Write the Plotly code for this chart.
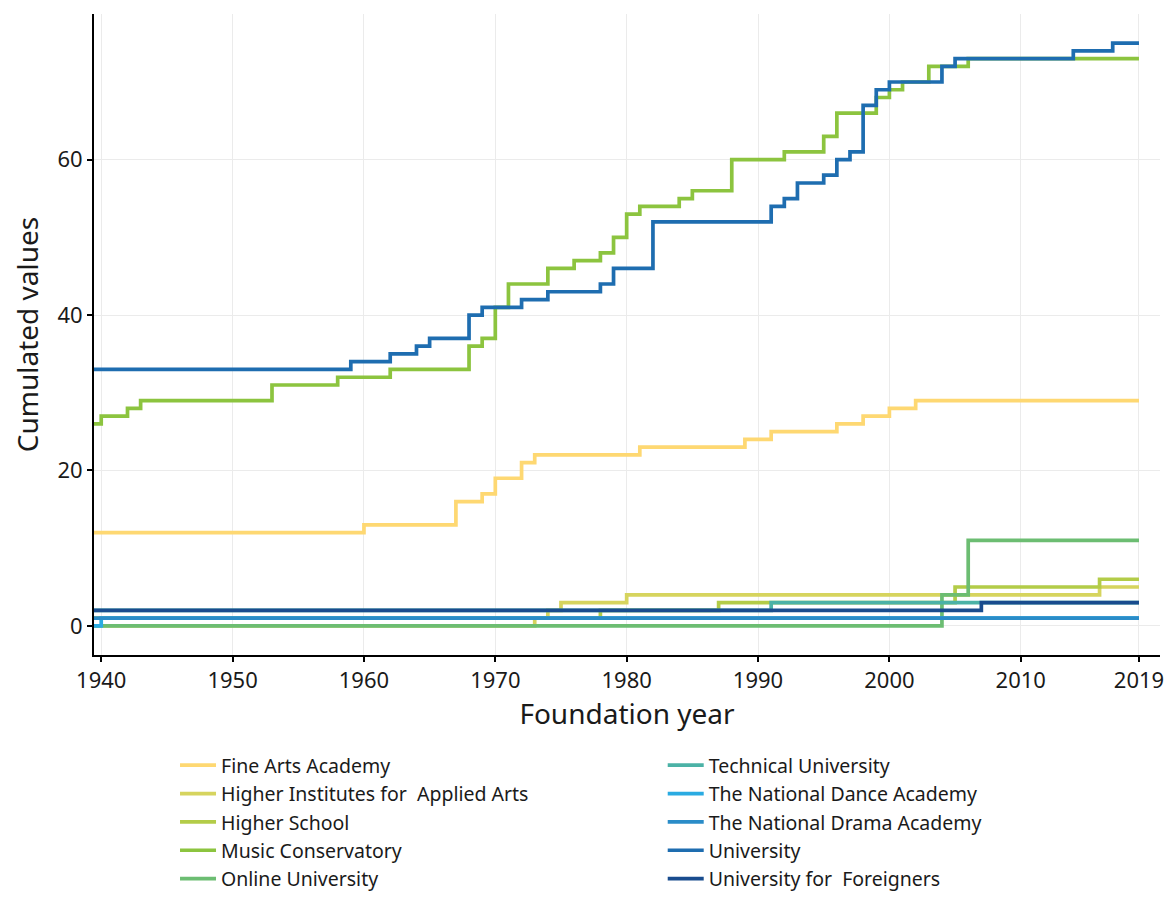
import plotly.graph_objects as go

# Cumulated number of institutions by foundation year (step points: year, cumulated value)
fine_arts_years = [1939, 1960, 1967, 1969, 1970, 1972, 1973, 1981, 1989, 1991, 1996, 1998, 2000, 2002, 2019]
fine_arts_values = [12, 13, 16, 17, 19, 21, 22, 23, 24, 25, 26, 27, 28, 29, 29]

applied_arts_years = [1939, 1973, 1974, 1975, 1980, 2016, 2019]
applied_arts_values = [0, 1, 2, 3, 4, 5, 5]

higher_school_years = [1939, 1978, 1987, 2005, 2016, 2019]
higher_school_values = [1, 2, 3, 5, 6, 6]

music_years = [1939, 1940, 1942, 1943, 1953, 1958, 1962, 1968, 1969, 1970, 1971, 1974, 1976, 1978,
               1979, 1980, 1981, 1984, 1985, 1988, 1992, 1995, 1996, 1999, 2000, 2001, 2003, 2006, 2019]
music_values = [26, 27, 28, 29, 31, 32, 33, 36, 37, 41, 44, 46, 47, 48,
                50, 53, 54, 55, 56, 60, 61, 63, 66, 68, 69, 70, 72, 73, 73]

online_years = [1939, 2004, 2006, 2019]
online_values = [0, 4, 11, 11]

technical_years = [1939, 1991, 2019]
technical_values = [2, 3, 3]

dance_years = [1939, 1940, 2019]
dance_values = [0, 1, 1]

drama_years = [1939, 2019]
drama_values = [1, 1]

university_years = [1939, 1959, 1962, 1964, 1965, 1968, 1969, 1972, 1974, 1978, 1979, 1982, 1991, 1992,
                    1993, 1995, 1996, 1997, 1998, 1999, 2000, 2004, 2005, 2014, 2017, 2019]
university_values = [33, 34, 35, 36, 37, 40, 41, 42, 43, 44, 46, 52, 54, 55,
                     57, 58, 60, 61, 67, 69, 70, 72, 73, 74, 75, 75]

foreigners_years = [1939, 2007, 2019]
foreigners_values = [2, 3, 3]

categories = ["Fine Arts Academy", "Higher Institutes for  Applied Arts", "Higher School",
              "Music Conservatory", "Online University", "Technical University",
              "The National Dance Academy", "The National Drama Academy", "University",
              "University for  Foreigners"]
series_years = [fine_arts_years, applied_arts_years, higher_school_years, music_years, online_years,
                technical_years, dance_years, drama_years, university_years, foreigners_years]
series_values = [fine_arts_values, applied_arts_values, higher_school_values, music_values, online_values,
                 technical_values, dance_values, drama_values, university_values, foreigners_values]
colors = ["#FED872", "#D6D45E", "#B3CC48", "#8CC43F", "#6CBD72",
          "#4BB2A6", "#2AABE2", "#2A8CC8", "#1E6DB0", "#194C8E"]

x_tick_vals = [1940, 1950, 1960, 1970, 1980, 1990, 2000, 2010, 2019]
y_tick_vals = [0, 20, 40, 60]

FONT = "'Noto Sans', 'Open Sans', sans-serif"
TXT = "#1a1a1a"

fig = go.Figure()
for i, (name, xs, ys, col) in enumerate(zip(categories, series_years, series_values, colors)):
    fig.add_trace(go.Scatter(
        x=xs, y=ys, mode="lines", name=name, line=dict(color=col, width=3.7, shape="hv"),
        legend="legend" if i < 5 else "legend2",
    ))

legend_common = dict(
    orientation="v", xanchor="left", y=-0.142, yanchor="top",
    font=dict(family=FONT, size=19.5, color=TXT), tracegroupgap=0, itemwidth=36,
    bgcolor="rgba(0,0,0,0)",
)

fig.update_layout(
    width=1158, height=884,
    paper_bgcolor="white", plot_bgcolor="white",
    font=dict(family=FONT, color=TXT, size=22),
    margin=dict(l=86, r=6, t=6, b=237, autoexpand=False),
    showlegend=True,
    legend=dict(x=0.076, **legend_common),
    legend2=dict(x=0.5335, **legend_common),
)
fig.update_xaxes(
    range=[1939.45, 2020.6], tickvals=x_tick_vals, ticktext=[str(v) for v in x_tick_vals],
    showgrid=True, gridcolor="#EBEBEB", gridwidth=1.2, zeroline=False,
    showline=True, linecolor="black", linewidth=2, ticks="outside", tickcolor="black",
    ticklen=5, tickwidth=1.5, tickfont=dict(size=22, color=TXT),
    title=dict(text="Foundation year", font=dict(size=28, color=TXT), standoff=6),
)
fig.update_yaxes(
    range=[-3.75, 78.75], tickvals=y_tick_vals,
    showgrid=True, gridcolor="#EBEBEB", gridwidth=1.2, zeroline=False,
    showline=True, linecolor="black", linewidth=2, ticks="outside", tickcolor="black",
    ticklen=5, tickwidth=1.5, tickfont=dict(size=22, color=TXT),
    title=dict(text="Cumulated values", font=dict(size=28, color=TXT), standoff=14),
)

fig.write_html("out.html")
